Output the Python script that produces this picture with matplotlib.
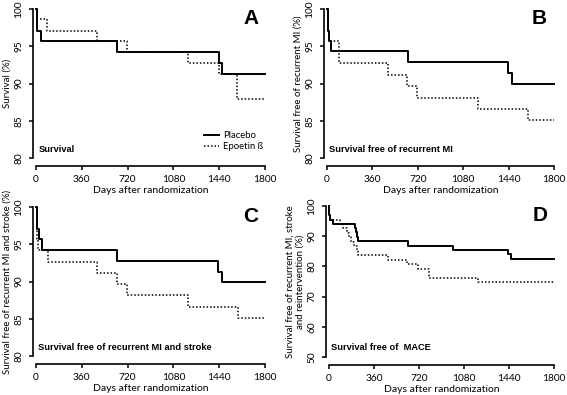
import matplotlib.pyplot as plt
import numpy as np

# Kaplan-Meier step data (days, survival %)
a_plac_t = [0, 10, 37, 634, 1436, 1465, 1800]
a_plac_s = [100, 97.1, 95.7, 94.2, 92.8, 91.3, 91.3]
a_epo_t = [0, 5, 88, 477, 713, 1192, 1438, 1582, 1800]
a_epo_s = [100, 98.6, 97.1, 95.7, 94.2, 92.8, 91.3, 87.9, 87.9]

b_plac_t = [0, 5, 12, 31, 639, 1438, 1467, 1800]
b_plac_s = [100, 97.1, 95.7, 94.3, 92.9, 91.4, 89.9, 89.9]
b_epo_t = [0, 5, 12, 97, 480, 634, 713, 1197, 1590, 1800]
b_epo_s = [100, 97.1, 95.7, 92.7, 91.1, 89.7, 88.1, 86.6, 85.1, 85.1]

c_plac_t = [0, 10, 24, 45, 633, 1434, 1460, 1800]
c_plac_s = [100, 97.1, 95.7, 94.2, 92.8, 91.3, 89.9, 89.9]
c_epo_t = [0, 8, 13, 97, 476, 633, 712, 1196, 1588, 1800]
c_epo_s = [100, 95.7, 94.2, 92.6, 91.1, 89.6, 88.2, 86.6, 85.1, 85.1]

d_plac_t = [0, 3, 10, 34, 207, 215, 224, 234, 631, 994, 1435, 1453, 1800]
d_plac_s = [100, 96.9, 95.5, 94.1, 92.7, 91.3, 89.8, 88.3, 86.8, 85.4, 84.0, 82.6, 82.6]
d_epo_t = [0, 3, 10, 89, 115, 142, 160, 176, 199, 220, 234, 470, 625, 712, 796, 1191, 1800]
d_epo_s = [100, 97.0, 95.5, 94.0, 92.6, 91.2, 89.7, 88.2, 86.8, 85.3, 83.7, 82.2, 80.7, 79.3, 76.3, 74.7, 74.7]

xticks = [0, 360, 720, 1080, 1440, 1800]

W, H = 567, 395
fig = plt.figure(figsize=(W / 100, H / 100), dpi=100)

tick_font = 'Lato'
bold_font = 'Liberation Sans'


def make_ax(x0, x1, ytop, ybot):
    return fig.add_axes([x0 / W, 1 - ybot / H, (x1 - x0) / W, (ybot - ytop) / H])


panels = [
    # (ax box px, ylim, yticks, ylabel, title, letter, data)
    ((36, 265, 9, 158), (80, 100), [80, 85, 90, 95, 100], 'Survival (%)',
     'Survival', 'A', (a_plac_t, a_plac_s, a_epo_t, a_epo_s)),
    ((327, 554, 9, 158), (80, 100), [80, 85, 90, 95, 100],
     'Survival free of recurrent MI (%)', 'Survival free of recurrent MI', 'B',
     (b_plac_t, b_plac_s, b_epo_t, b_epo_s)),
    ((36, 265, 207, 356), (80, 100), [80, 85, 90, 95, 100],
     'Survival free of recurrent MI and stroke (%)',
     'Survival free of recurrent MI and stroke', 'C',
     (c_plac_t, c_plac_s, c_epo_t, c_epo_s)),
    ((329, 554, 206, 357), (50, 100), [50, 60, 70, 80, 90, 100],
     'Survival free of recurrent MI, stroke\nand reintervention (%)',
     'Survival free of  MACE', 'D', (d_plac_t, d_plac_s, d_epo_t, d_epo_s)),
]

for box, ylim, yticks, ylabel, title, letter, data in panels:
    ax = make_ax(*box)
    pt, ps, et, es = data
    ax.step(et, es, where='post', color='black', lw=1.1, ls=(0, (1, 1.3)),
            clip_on=False, label='Epoetin \u00df')
    ax.step(pt, ps, where='post', color='black', lw=1.4, clip_on=False,
            label='Placebo')
    ax.set_xlim(0, 1800)
    ax.set_ylim(*ylim)
    ax.spines['top'].set_visible(False)
    ax.spines['right'].set_visible(False)
    ax.spines['left'].set_position(('outward', 2))
    ax.spines['bottom'].set_position(('outward', 6))
    ax.spines['left'].set_bounds(ylim[0], ylim[1])
    ax.spines['bottom'].set_bounds(0, 1800)
    for s in ('left', 'bottom'):
        ax.spines[s].set_linewidth(1.2)
    ax.set_xticks(xticks)
    ax.set_yticks(yticks)
    ax.set_xticklabels([str(v) for v in xticks], fontsize=7.3, family=tick_font)
    ax.set_yticklabels([str(v) for v in yticks], fontsize=7.3, family=tick_font,
                       rotation=90, va='center')
    ax.tick_params(axis='x', length=3, width=1.1, pad=3)
    ax.tick_params(axis='y', length=3, width=1.1, pad=4)
    ax.set_xlabel('Days after randomization', fontsize=7.5, family=tick_font,
                  labelpad=2)
    ax.set_ylabel(ylabel, fontsize=7, family=tick_font, labelpad=2,
                  linespacing=1.1)
    ax.text(0.01, 0.03, title, transform=ax.transAxes, fontsize=6.7,
            fontweight='bold', family=bold_font, ha='left', va='bottom')
    ax.text(0.97, 1.0, letter, transform=ax.transAxes, fontsize=15,
            fontweight='bold', family=bold_font, ha='right', va='top')
    if letter == 'A':
        h, l = ax.get_legend_handles_labels()
        ax.legend(h[::-1], l[::-1], loc='lower right', bbox_to_anchor=(1.02, 0.0),
                  frameon=False, handlelength=1.6,
                  handletextpad=0.4, labelspacing=0.25, borderpad=0.2,
                  prop={'family': tick_font, 'size': 6.8})

fig.savefig('out.png', dpi=100)
